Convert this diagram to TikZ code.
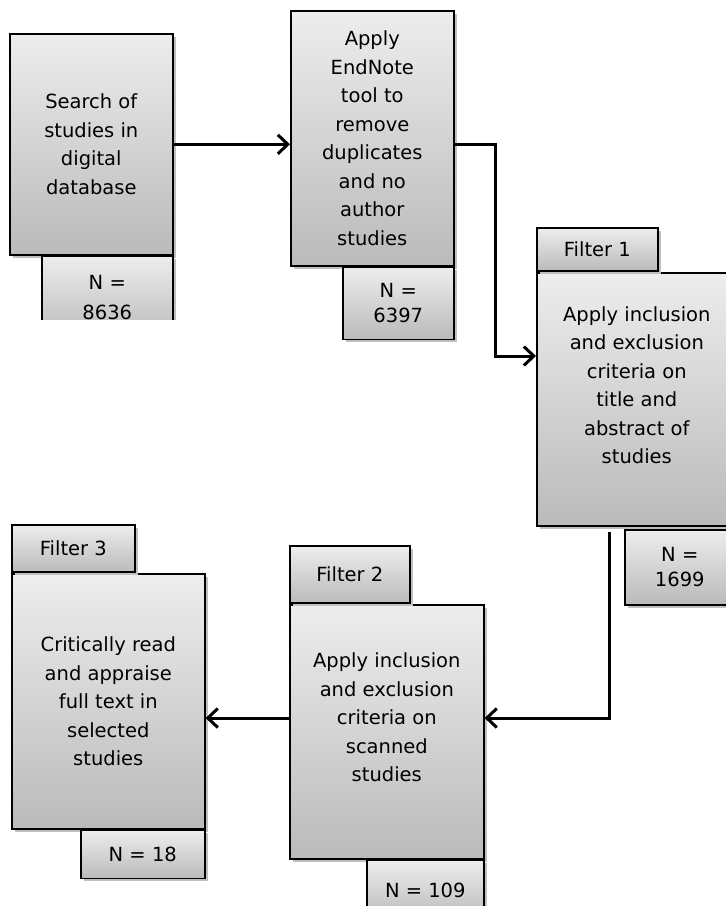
\documentclass[tikz,border=0pt]{standalone}
\usepackage{fontspec}
\setmainfont{DejaVu Sans}
\usepackage{tikz}
\usetikzlibrary{arrows.meta, shadows}
\tikzstyle{process} = [rectangle, draw=black, line width=1.6pt, top color=black!7, bottom color=black!27, inner sep=0pt, align=center, font=\fontsize{19.5}{28.5}\selectfont, drop shadow={shadow xshift=3pt, shadow yshift=-3pt, fill=black!25, opacity=1}]
\tikzstyle{count} = [process, font=\fontsize{19.5}{25}\selectfont]
\tikzstyle{tab} = [process]
\tikzstyle{arrow} = [line width=3pt, -{Straight Barb[length=10pt, width=19pt]}]

\begin{document}
\begin{tikzpicture}[x=1pt, y=-1pt]
                \clip (0,0) rectangle (726,906);

% ---------------------------------------------
% Main boxes
% ---------------------------------------------
                \node (search) [process, minimum width=163, minimum height=221, anchor=north west] at (9,33) {Search of\\studies in\\digital\\database};
                \node (endnote) [process, minimum width=163, minimum height=255, anchor=north west] at (290,10) {Apply\\EndNote\\tool to\\remove\\duplicates\\and no\\author\\studies};

                \node (title_abs) [process, minimum width=200, minimum height=253, anchor=north west] at (536,272) {Apply inclusion\\and exclusion\\criteria on\\title and\\abstract of\\studies\\\mbox{}};

                \node (scanned) [process, minimum width=194, minimum height=254, anchor=north west] at (289,604) {Apply inclusion\\and exclusion\\criteria on\\scanned\\studies\\\mbox{}};

                \node (fulltext) [process, minimum width=193, minimum height=255, anchor=north west] at (11,573) {Critically read\\and appraise\\full text in\\selected\\studies};

% ---------------------------------------------
% Filter tabs
% ---------------------------------------------
                \node (filter1) [tab, minimum width=121, minimum height=43, anchor=south west] at (title_abs.north west) {Filter 1};
                \node (filter2) [tab, minimum width=120, minimum height=57, anchor=south west] at (scanned.north west) {Filter 2};
                \node (filter3) [tab, minimum width=123, minimum height=47, anchor=south west] at (fulltext.north west) {Filter 3};

% ---------------------------------------------
% Counts
% ---------------------------------------------
                \begin{scope}
                \clip (0,0) rectangle (726,319);
                \node (n_search) [count, font=\fontsize{19.5}{30}\selectfont, minimum width=131, minimum height=82, anchor=north east] at (search.south east) {N =\\8636};
                \end{scope}
                \node (n_endnote) [count, minimum width=111, minimum height=72, anchor=north east] at (endnote.south east) {N =\\6397};
                \node (n_title) [count, minimum width=110, minimum height=75, anchor=north west] at (624,529) {N =\\1699};
                \node (n_scanned) [count, minimum width=117, minimum height=60, anchor=north east] at (scanned.south east) {N = 109};
                \node (n_fulltext) [count, minimum width=124, minimum height=48, anchor=north east] at (fulltext.south east) {N = 18};

% ---------------------------------------------
% All arrows
% ---------------------------------------------
                \coordinate (bend) at (495,356);
                \coordinate (drop) at (609,532);
                \coordinate (turn) at (609,718);

                \draw [arrow] (search.east) -- (search.east -| endnote.west);
                \draw [arrow] (search.east -| endnote.east) -| (bend) -- (bend -| title_abs.west);
                \draw [arrow] (drop) -- (turn) -- (turn -| scanned.east);
                \draw [arrow] (turn -| scanned.west) -- (turn -| fulltext.east);

\end{tikzpicture}
\end{document}
